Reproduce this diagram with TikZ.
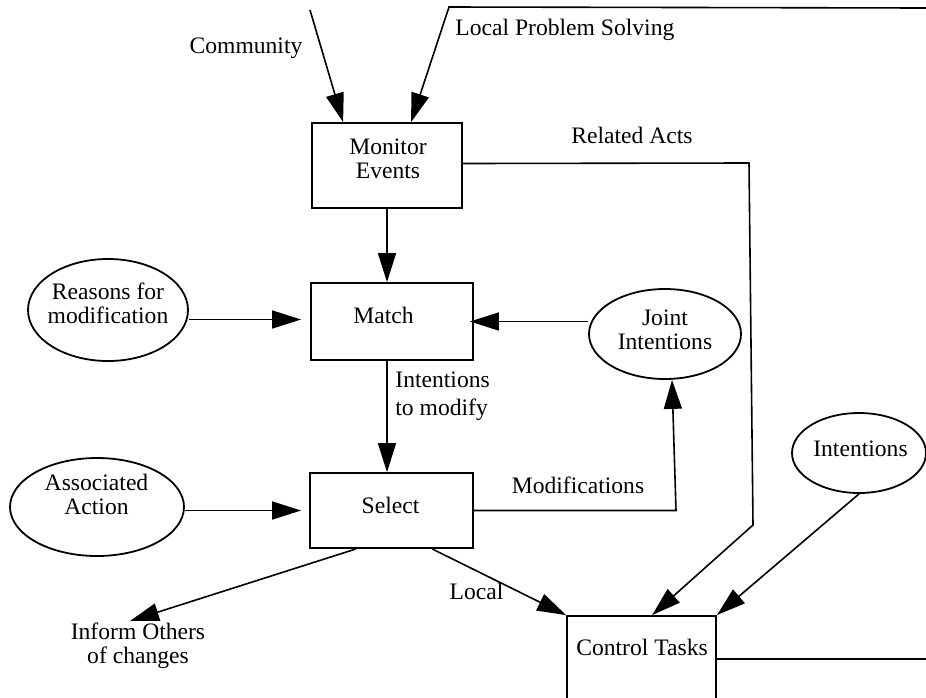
\documentclass[tikz,border=0pt]{standalone}
\usepackage{fontspec}
\setmainfont{Liberation Serif}
\usetikzlibrary{arrows.meta,shapes.geometric}

\tikzset{
  txt/.style={font=\fontsize{11.8}{12}\selectfont, inner sep=0pt, align=center},
  box/.style={draw, line width=0.9pt, rectangle, inner sep=0pt},
  oval/.style={draw, line width=0.9pt, ellipse, inner sep=0pt},
  link/.style={line width=0.8pt},
  arr/.style={link, -{Triangle[length=14.5pt,width=9pt]}},
}

\begin{document}
\begin{tikzpicture}[x=0.5pt,y=-0.5pt]
  \clip (0,0) rectangle (926,697);

  % process boxes
  \node[box, minimum width=75pt, minimum height=42.5pt] (monitor) at (387,165.5) {};
  \node[box, minimum width=81pt, minimum height=38.5pt] (match) at (392,321.5) {};
  \node[box, minimum width=81.5pt, minimum height=37.5pt] (select) at (391.5,510.5) {};
  \node[box, minimum width=74.5pt, minimum height=43pt] (control) at (641.5,659) {};

  % data stores
  \node[oval, minimum width=80pt, minimum height=51pt] (reasons) at (108,310) {};
  \node[oval, minimum width=76pt, minimum height=45pt] (joint) at (665,334) {};
  \node[oval, minimum width=87pt, minimum height=49pt] (assoc) at (97,507) {};
  \node[oval, minimum width=67pt, minimum height=40pt] (intent) at (859,453) {};

  % texts (base anchor sits on the last line)
  \node[txt, anchor=base] (monitortxt) at (388,178) {Monitor\\Events};
  \node[txt, anchor=base] (matchtxt) at (383.5,323) {Match};
  \node[txt, anchor=base] (selecttxt) at (390.5,513) {Select};
  \node[txt, anchor=base] (controltxt) at (642,655) {Control Tasks};
  \node[txt, anchor=base] (reasonstxt) at (108,323) {Reasons for\\modification};
  \node[txt, anchor=base] (jointtxt) at (665,349) {Joint\\Intentions};
  \node[txt, anchor=base] (assoctxt) at (96.5,514) {Associated\\Action};
  \node[txt, anchor=base] (intenttxt) at (860.5,456) {Intentions};

  \node[txt, anchor=base] (community) at (246,53) {Community};
  \node[txt, anchor=base west] (lps) at (455,35) {Local Problem Solving};
  \node[txt, anchor=base] (related) at (632,143) {Related Acts};
  \node[txt, anchor=base west, align=left, font=\fontsize{11.8}{14}\selectfont] (tomodify) at (395,415) {Intentions\\to modify};
  \node[txt, anchor=base] (modif) at (578,493) {Modifications};
  \node[txt, anchor=base] (local) at (476.5,599) {Local};
  \node[txt, anchor=base] (inform) at (138,663) {Inform Others\\of changes};

  % loose ends at the border
  \coordinate (commsrc) at (310,10);
  \coordinate (lpssrc) at (926,8);
  \coordinate (ctlout) at (926,659);

  % connectors
  \draw[arr] (commsrc) -- ([xshift=16pt]monitor.north west);
  \draw[arr] (lpssrc) -- (449,7) -- ([xshift=50pt]monitor.north west);
  \draw[arr] ([yshift=1pt]monitor.east) -- (749,163) -- (753,525) -- ([xshift=43pt]control.north west);
  \draw[arr] (monitor.south) -- (monitor.south |- match.north);
  \draw[arr, shorten >=4.5pt] ([yshift=1pt]reasons.east |- match.west) -- ([yshift=1pt]match.west);
  \draw[arr, shorten >=-2pt] (joint.west |- match.east) -- (match.east);
  \draw[arr] (match.south -| monitor.south) -- (select.north -| monitor.south);
  \draw[arr] (select.east) -- (676,510.5) -- ([xshift=3.5pt]joint.south);
  \draw[arr, shorten >=4pt] (assoc.east |- select.west) -- (select.west);
  \draw[arr] ([xshift=23.5pt]select.south west) -- ([xshift=-4pt,yshift=0.5pt]inform.north);
  \draw[arr] ([xshift=61.5pt]select.south west) -- (control.north west);
  \draw[arr] (intent.south) -- (control.north east);
  \draw[link] (control.east) -- (ctlout);
  \draw[line width=1.4pt] (835,659) -- (858,659);
\end{tikzpicture}
\end{document}
